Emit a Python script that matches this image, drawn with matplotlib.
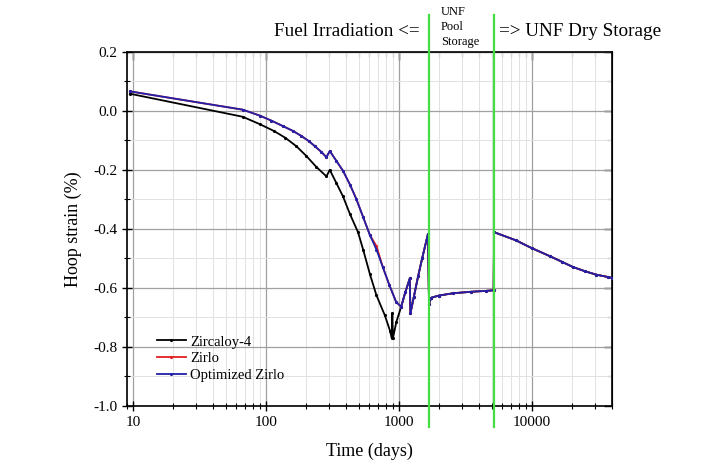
import numpy as np
import matplotlib
matplotlib.use('Agg')
import matplotlib.pyplot as plt
from matplotlib.ticker import LogLocator, MultipleLocator, FixedLocator, NullFormatter

plt.rcParams['font.family'] = ['Liberation Serif', 'DejaVu Serif']
plt.rcParams['axes.unicode_minus'] = False

# Zircaloy-4 during irradiation (before it joins the other curves)
zry_t = [9.5, 67, 90, 115, 140, 170, 202, 240, 286, 303, 340, 381, 430, 494, 540,
         606, 680, 785, 860, 885, 895, 905, 960, 1043]
zry_s = [0.058, -0.020, -0.045, -0.068, -0.091, -0.120, -0.153, -0.190, -0.222, -0.200,
         -0.245, -0.290, -0.350, -0.411, -0.470, -0.552, -0.625, -0.692, -0.745, -0.770,
         -0.685, -0.770, -0.715, -0.664]

# Optimized Zirlo, irradiation part
oz_t = [9.5, 67, 90, 110, 135, 160, 185, 210, 233, 260, 286, 303, 340, 381, 430, 480,
        540, 606, 680, 760, 850, 955, 1043]
oz_s = [0.066, 0.004, -0.016, -0.033, -0.052, -0.068, -0.085, -0.102, -0.119, -0.138,
        -0.157, -0.136, -0.170, -0.203, -0.250, -0.299, -0.360, -0.420, -0.470, -0.530,
        -0.590, -0.647, -0.664]

# common part: end of irradiation, pool storage, dry storage
tail_t = [1120, 1211, 1225, 1300, 1400, 1500, 1660, 1690, 1758, 2000, 2560, 3500,
          4500, 5180, 5212, 7640, 10000, 13650, 17000, 20400, 25000, 30600, 37500, 40000]
tail_s = [-0.615, -0.568, -0.686, -0.630, -0.560, -0.500, -0.417, -0.653, -0.633,
          -0.626, -0.618, -0.613, -0.610, -0.608, -0.411, -0.439, -0.465, -0.492,
          -0.512, -0.529, -0.543, -0.555, -0.563, -0.566]

# Zirlo lies under Optimized Zirlo, only one point peeks out
zirlo_s = list(oz_s)
zirlo_s[18] = -0.458

stage_lines = [1700, 5200]

fig = plt.figure(figsize=(7.08, 4.71), dpi=100)
ax = fig.add_axes([0.179, 0.138, 0.685, 0.752])

ax.plot(zry_t + tail_t, zry_s + tail_s, color='black', lw=1.3, marker='.', ms=2.5,
        label='Zircaloy-4', zorder=3)
ax.plot(oz_t + tail_t, zirlo_s + tail_s, color='#e02020', lw=1.3, marker='.', ms=2.5,
        label='Zirlo', zorder=4)
ax.plot(oz_t + tail_t, oz_s + tail_s, color='#2020a8', lw=1.3, marker='.', ms=2.5,
        label='Optimized Zirlo', zorder=5)

for x in stage_lines:
    ax.axvline(x, ymin=-0.06, ymax=1.105, color='#44dd44', lw=1.6, clip_on=False, zorder=6)

ax.set_xscale('log')
ax.set_xlim(9, 40000)
ax.set_ylim(-1.0, 0.2)
xmaj = FixedLocator([10, 100, 1000, 10000])
ax.xaxis.set_major_locator(xmaj)
ax.xaxis.set_minor_locator(LogLocator(base=10, subs=np.arange(2, 10)))
ax.xaxis.set_minor_formatter(NullFormatter())
ax.set_xticklabels(['10', '100', '1000', '10000'])
ax.yaxis.set_major_locator(MultipleLocator(0.2))
ax.yaxis.set_minor_locator(MultipleLocator(0.1))
ax.yaxis.set_major_formatter(matplotlib.ticker.FormatStrFormatter('%.1f'))

ax.grid(which='major', color='#a0a0a0', lw=0.9)
ax.grid(which='minor', color='#e2e2e2', lw=0.7)
ax.set_axisbelow(True)

ax.tick_params(which='both', labelsize=11)
ax.tick_params(which='major', direction='inout', length=7, width=1)
ax.tick_params(which='minor', direction='inout', length=4, width=0.8)

# top / right ticks only point inwards, no labels
sx = ax.secondary_xaxis('top')
sx.xaxis.set_major_locator(FixedLocator([10, 100, 1000, 10000]))
sx.xaxis.set_minor_locator(LogLocator(base=10, subs=np.arange(2, 10)))
sx.tick_params(which='major', direction='in', length=6, width=1, labeltop=False)
sx.tick_params(which='minor', direction='in', length=3.5, width=0.8, labeltop=False)
sy = ax.secondary_yaxis('right')
sy.yaxis.set_major_locator(MultipleLocator(0.2))
sy.yaxis.set_minor_locator(MultipleLocator(0.1))
sy.tick_params(which='major', direction='in', length=6, width=1, labelright=False)
sy.tick_params(which='minor', direction='in', length=3.5, width=0.8, labelright=False)

for s in ax.spines.values():
    s.set_linewidth(1.2)

ax.set_xlabel('Time (days)', fontsize=13, labelpad=10)
ax.set_ylabel('Hoop strain (%)', fontsize=13, labelpad=8)

leg = ax.legend(loc='lower left', bbox_to_anchor=(0.035, 0.03), frameon=False,
                fontsize=10.5, handlelength=2.0, handletextpad=0.3, labelspacing=0.25)

fig.text(420 / 708, 1 - 31 / 471, 'Fuel Irradiation <=', fontsize=13.8, ha='right', va='center')
fig.text(499 / 708, 1 - 31 / 471, '=> UNF Dry Storage', fontsize=13.8, ha='left', va='center')
fig.text(441 / 708, 1 - 12 / 471, 'UNF', fontsize=9, ha='left', va='center')
fig.text(441 / 708, 1 - 27 / 471, 'Pool', fontsize=9, ha='left', va='center')
fig.text(441 / 708, 1 - 42 / 471, 'Storage', fontsize=9, ha='left', va='center')

fig.savefig('out.png', dpi=100)
